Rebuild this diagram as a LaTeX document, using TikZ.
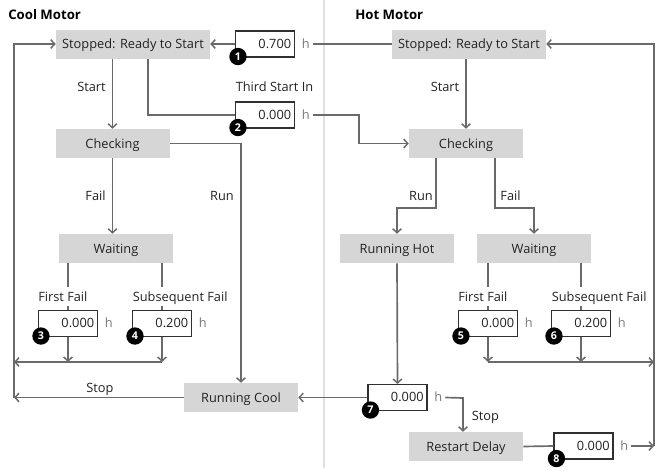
\documentclass[tikz,border=0pt]{standalone}
\usepackage{fontspec}
\setmainfont{Open Sans}
\usetikzlibrary{arrows.meta,calc}
\definecolor{stfill}{HTML}{D6D6D6}
\definecolor{txt}{HTML}{222222}
\definecolor{ln}{HTML}{6A6A6A}
\definecolor{bxl}{HTML}{303030}
\definecolor{hgray}{HTML}{7A7A7A}
\definecolor{divc}{HTML}{E0E0E0}
\tikzset{
  lbl/.style={font=\fontsize{9.6}{11}\selectfont, text=txt, inner sep=0pt, text height=8.2pt, text depth=1pt},
  title/.style={font=\fontsize{9.9}{11}\selectfont\bfseries, text=black, inner sep=0pt, anchor=west},
  state/.style={fill=stfill, text=txt, font=\fontsize{9.6}{11}\selectfont, inner sep=0pt, minimum height=21.75pt, text height=8.2pt, text depth=1pt},
  wide/.style={state, minimum width=115.5pt},
  narrow/.style={state, minimum width=85.5pt},
  valbox/.style={draw=bxl, line width=0.8pt, fill=white, minimum width=44.25pt, minimum height=19.5pt,
     inner xsep=2.5pt, inner ysep=0pt, text width=39.25pt, align=right, text=txt, font=\fontsize{9.6}{11}\selectfont, text height=7.6pt, text depth=1.4pt},
  unit/.style={text=hgray, font=\fontsize{9.6}{11}\selectfont, inner xsep=2pt, inner ysep=0pt, anchor=west, text height=7.6pt, text depth=1.4pt},
  badge/.style={circle, fill=black, text=white, minimum size=13pt, inner sep=0pt, font=\fontsize{8}{8}\selectfont\bfseries},
  faillbl/.style={lbl, anchor=west, minimum height=14.25pt},
  con/.style={draw=ln, line width=1.25pt},
  arr/.style={con, -{Straight Barb[length=3pt,width=6.5pt,line width=1.1pt]}},
}
\begin{document}
\begin{tikzpicture}[x=0.75pt,y=-0.75pt]
\useasboundingbox (0,0) rectangle (668,471);
\draw[divc, line width=1.1pt] (324,0) -- (324,468);
\node[title] (tc) at (8,14.5) {Cool Motor};
\node[title] (th) at (355,14.5) {Hot Motor};
% ---------- cool motor states
\node[wide] (stC) at (133,44) {Stopped: Ready to Start};
\node[narrow] (chC) at (112.5,143.5) {Checking};
\node[narrow] (waC) at (116,248.5) {Waiting};
\node[narrow] (rcC) at (241,397.5) {Running Cool};
% ---------- hot motor states
\node[wide] (stH) at (469,44) {Stopped: Ready to Start};
\node[narrow] (chH) at (466,143.5) {Checking};
\node[narrow] (rhH) at (397,248.5) {Running Hot};
\node[narrow] (waH) at (534,248.5) {Waiting};
\node[narrow] (rdH) at (466,446.5) {Restart Delay};
% ---------- value boxes
\node[valbox] (v1) at (265,44) {0.700};
\node[valbox] (v2) at (265,115) {0.000};
\node[valbox] (v3) at (68,323.5) {0.000};
\node[valbox] (v4) at (162,323.5) {0.200};
\node[valbox] (v5) at (488,323.5) {0.000};
\node[valbox] (v6) at (581,323.5) {0.200};
\node[valbox] (v7) at (397.5,397.5) {0.000};
\node[valbox] (v8) at (583.5,446) {0.000};
\foreach \i in {1,...,8}{
  \node[unit] (h\i) at ([xshift=3pt]v\i.east) {h};
  \coordinate (b\i) at ($(v\i.south west)+(3,-1)$);
}
% ---------- labels
\node[lbl] (lsC) at (91.5,87) {Start};
\node[lbl] (ltS) at (274.5,87) {Third Start In};
\node[lbl] (lfC) at (95.5,196) {Fail};
\node[lbl] (lrC) at (222,196) {Run};
\node[lbl] (lstC) at (100,388) {Stop};
\node[lbl] (lsH) at (445,87) {Start};
\node[lbl] (lrH) at (421,196) {Run};
\node[lbl] (lfH) at (510.5,196) {Fail};
\node[lbl] (lstH) at (485.5,416) {Stop};
\node[faillbl] (ff3) at (38,296.5) {First Fail};
\node[faillbl] (sf4) at (132.5,296.5) {Subsequent Fail};
\node[faillbl] (ff5) at (458,296.5) {First Fail};
\node[faillbl] (sf6) at (551.5,296.5) {Subsequent Fail};
% ---------- junction coordinates
\coordinate (k2) at (359,115);
\coordinate (cl) at (14,398);
\coordinate (j3) at (68,362);
\coordinate (j4) at (162,362);
\coordinate (jl) at (14,362);
\coordinate (rk) at (436,208);
\coordinate (fk) at (495,208);
\coordinate (j5) at (488,362);
\coordinate (j6) at (581,362);
\coordinate (rr) at (654,446);
\coordinate (s7) at (463,398);
% ---------- cool connectors
\draw[arr] (chC.north |- stC.south) -- (chC.north);
\draw[con] ([xshift=11.25pt]stC.south) |- (v2.west);
\draw[arr] (h2.east) -- (k2) |- (chH.west);
\draw[con] (stH.west) -- (h1.east);
\draw[arr] (v1.west) -- (stC.east);
\draw[arr] (chC.south) -- (chC.south |- waC.north);
\draw[arr] (chC.east) -| (rcC.north);
\draw[con] (waC.south -| v3.north) -- (ff3.north -| v3.north);
\draw[con] (ff3.south -| v3.north) -- (v3.north);
\draw[con] (waC.south -| v4.north) -- (sf4.north -| v4.north);
\draw[con] (sf4.south -| v4.north) -- (v4.north);
\draw[arr] (v3.south) -- (j3);
\draw[arr] (v4.south) -- (j4);
\draw[arr] (j4) -- (jl);
\draw[arr] (rcC.west) -- (rcC.west -| cl);
\draw[arr] (cl) |- (stC.west);
% ---------- hot connectors
\draw[arr] (chH.north |- stH.south) -- (chH.north);
\draw[arr] (chH.south -| rk) -- (rk) -| (rhH.north);
\draw[arr] (chH.south -| fk) -- (fk) -| (waH.north);
\draw[con] (waH.south -| v5.north) -- (ff5.north -| v5.north);
\draw[con] (ff5.south -| v5.north) -- (v5.north);
\draw[con] (waH.south -| v6.north) -- (sf6.north -| v6.north);
\draw[con] (sf6.south -| v6.north) -- (v6.north);
\draw[arr] (v5.south) -- (j5);
\draw[arr] (v6.south) -- (j6);
\draw[arr] (j5) -- (j5 -| rr);
\draw[arr] (rr) |- (stH.east);
\draw[arr] (rhH.south) -- (v7.north);
\draw[arr] (v7.west) -- (rcC.east);
\draw[arr] (h7.east) -- (s7) -- (s7 |- rdH.north);
\draw[con] (rdH.east) -- (v8.west);
\draw[arr] (h8.east) -- (h8.east -| rr);
% badges on top
\foreach \i in {1,...,8}{
  \node[badge] (n\i) at (b\i) {\i};
}
\end{tikzpicture}
\end{document}
